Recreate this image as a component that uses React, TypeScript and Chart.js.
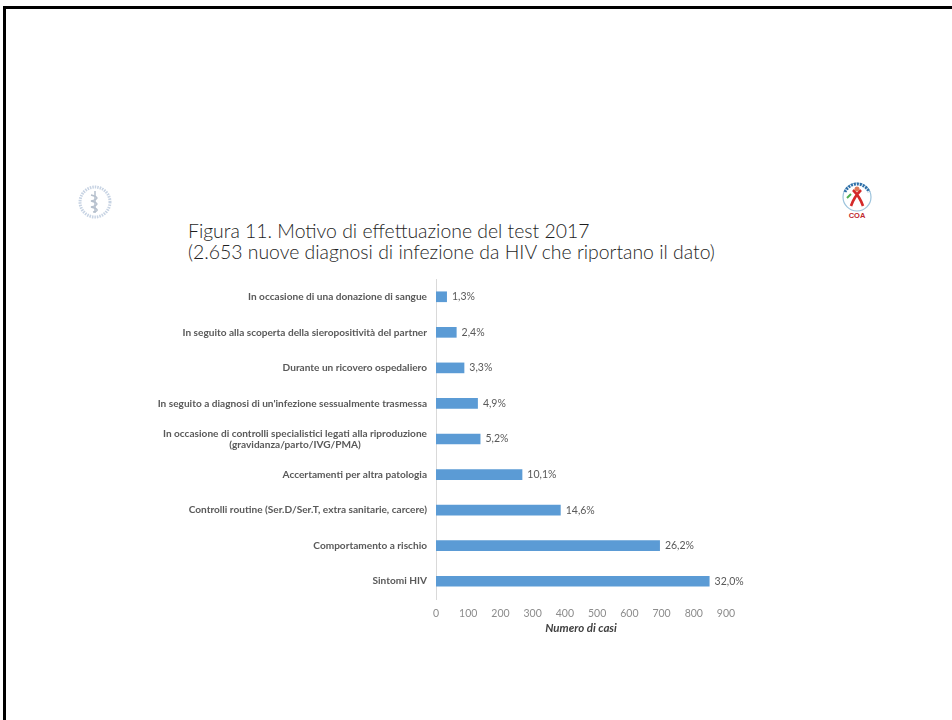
import React, { useEffect, useRef } from "react";
import { Chart, registerables } from "chart.js";

Chart.register(...registerables);

const categories: (string | string[])[] = [
  "In occasione di una donazione di sangue",
  "In seguito alla scoperta della sieropositività del partner",
  "Durante un ricovero ospedaliero",
  "In seguito a diagnosi di un'infezione sessualmente trasmessa",
  ["In occasione di controlli specialistici legati alla riproduzione", "(gravidanza/parto/IVG/PMA)"],
  "Accertamenti per altra patologia",
  "Controlli routine (Ser.D/Ser.T, extra sanitarie, carcere)",
  "Comportamento a rischio",
  "Sintomi HIV",
];

const cases = [34, 64, 88, 130, 138, 268, 387, 695, 849];
const percentLabels = ["1,3%", "2,4%", "3,3%", "4,9%", "5,2%", "10,1%", "14,6%", "26,2%", "32,0%"];
const xTicks = [0, 100, 200, 300, 400, 500, 600, 700, 800, 900];

const titleLine1 = "Figura 11. Motivo di effettuazione del test 2017";
const titleLine2 = "(2.653 nuove diagnosi di infezione da HIV che riportano il dato)";
const xAxisTitle = "Numero di casi";

const FONT = "Lato, 'Open Sans', sans-serif";

const yLabelsPlugin = {
  id: "yLabels",
  afterDraw(chart: any) {
    const ctx = chart.ctx;
    const y = chart.scales.y;
    const rightX = chart.chartArea.left - 9;
    ctx.save();
    ctx.font = `bold 10.1px ${FONT}`;
    ctx.fillStyle = "#595959";
    ctx.textBaseline = "middle";
    categories.forEach((lab, i) => {
      const cy = y.getPixelForValue(i);
      if (Array.isArray(lab)) {
        const widths = lab.map((l) => ctx.measureText(l).width);
        const maxW = Math.max(...widths);
        const cx = rightX - maxW / 2;
        const lh = 10.5;
        const start = cy - ((lab.length - 1) * lh) / 2;
        ctx.textAlign = "center";
        lab.forEach((l, k) => ctx.fillText(l, cx, start + k * lh));
      } else {
        ctx.textAlign = "right";
        ctx.fillText(lab, rightX, cy);
      }
    });
    ctx.restore();
  },
};

const dataLabelsPlugin = {
  id: "dataLabels",
  afterDatasetsDraw(chart: any) {
    const ctx = chart.ctx;
    const meta = chart.getDatasetMeta(0);
    ctx.save();
    ctx.font = `10.5px ${FONT}`;
    ctx.fillStyle = "#595959";
    ctx.textAlign = "left";
    ctx.textBaseline = "middle";
    meta.data.forEach((bar: any, i: number) => {
      ctx.fillText(percentLabels[i], bar.x + 5, bar.y);
    });
    ctx.restore();
  },
};

function CoaLogo() {
  return (
    <svg width="36" height="40" viewBox="0 0 36 40" style={{ position: "absolute", left: 839, top: 180 }}>
      <circle cx="18" cy="17" r="14" fill="none" stroke="#9cc3dc" strokeWidth="1.2" />
      <path d="M6 12 A13 13 0 0 1 30 12" fill="none" stroke="#2f6fa8" strokeWidth="3" strokeDasharray="2 1" />
      <path d="M14 10 C18 14 22 20 24 26 M22 10 C18 14 14 20 12 26" stroke="#d42a2a" strokeWidth="2.6" fill="none" />
      <circle cx="18" cy="9" r="2.5" fill="#e07b5a" />
      <path d="M8 18 L12 14" stroke="#4caf50" strokeWidth="2" />
      <text x="18" y="38" textAnchor="middle" fontFamily="Arial" fontWeight="bold" fontSize="7.5" fill="#c0282d">COA</text>
    </svg>
  );
}

function IssLogo() {
  return (
    <svg width="40" height="40" viewBox="0 0 40 40" style={{ position: "absolute", left: 75, top: 182 }}>
      <circle cx="20" cy="20" r="15" fill="none" stroke="#c7d3e3" strokeWidth="3" strokeDasharray="1.5 1" />
      <line x1="20" y1="9" x2="20" y2="31" stroke="#b5bfcc" strokeWidth="1.5" />
      <path d="M16 13 C24 15 24 17 16 19 C24 21 24 23 16 25 C24 27 24 29 18 30" stroke="#b5bfcc" strokeWidth="1.3" fill="none" />
    </svg>
  );
}

export default function App() {
  const canvasRef = useRef<HTMLCanvasElement | null>(null);

  useEffect(() => {
    if (!canvasRef.current) return;
    const chart = new Chart(canvasRef.current, {
      type: "bar",
      data: {
        labels: categories as any,
        datasets: [
          {
            data: cases,
            backgroundColor: "#5b9bd5",
            borderWidth: 0,
            barPercentage: 0.3,
            categoryPercentage: 1,
          },
        ],
      },
      options: {
        indexAxis: "y",
        animation: false,
        responsive: false,
        maintainAspectRatio: false,
        layout: { padding: { left: 0, right: 226, top: 279, bottom: 85 } },
        plugins: {
          legend: { display: false },
          tooltip: { enabled: false },
          title: { display: false },
        },
        scales: {
          x: {
            type: "linear",
            min: 0,
            max: 900,
            afterFit: (s: any) => {
              s.height = 36;
            },
            afterBuildTicks: (s: any) => {
              s.ticks = xTicks.map((v) => ({ value: v }));
            },
            grid: { display: false, drawTicks: false },
            border: { display: false },
            ticks: {
              color: "#8c8c8c",
              font: { family: FONT, size: 10.5 },
              padding: 8,
            },
            title: {
              display: true,
              text: xAxisTitle,
              color: "#404040",
              font: { family: FONT, size: 11.5, style: "italic", weight: "bold" },
              padding: { top: 0, bottom: 0 },
            },
          },
          y: {
            type: "category",
            afterFit: (s: any) => {
              s.width = 436;
            },
            grid: { display: false, drawTicks: false },
            border: { display: true, color: "#d9d9d9", width: 1 },
            ticks: { display: false },
          },
        },
      },
      plugins: [yLabelsPlugin, dataLabelsPlugin],
    });
    return () => chart.destroy();
  }, []);

  return (
    <div
      style={{
        position: "fixed",
        left: 0,
        top: 0,
        width: 952,
        height: 720,
        overflow: "hidden",
        background: "#ffffff",
      }}
    >
      <div
        style={{
          position: "absolute",
          left: 3,
          top: 6,
          width: 1100,
          height: 900,
          borderLeft: "3px solid #000",
          borderTop: "3px solid #000",
        }}
      />
      <IssLogo />
      <CoaLogo />
      <div
        style={{
          position: "absolute",
          left: 188,
          top: 220,
          fontFamily: FONT,
          fontSize: 19.4,
          fontWeight: 300,
          lineHeight: "21px",
          color: "#1e1e1e",
          whiteSpace: "nowrap",
        }}
      >
        <div>{titleLine1}</div>
        <div>{titleLine2}</div>
      </div>
      <canvas
        ref={canvasRef}
        width={952}
        height={720}
        style={{ position: "absolute", left: 0, top: 0, width: 952, height: 720 }}
      />
    </div>
  );
}
